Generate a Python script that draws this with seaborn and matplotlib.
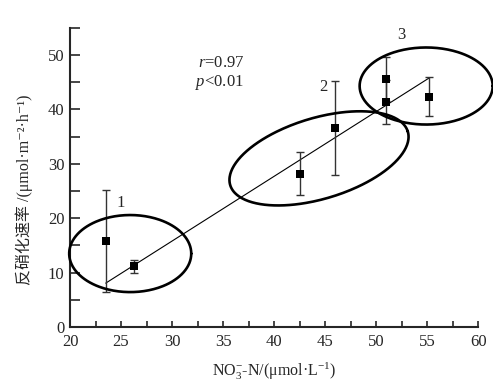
import numpy as np
import pandas as pd
import matplotlib
matplotlib.use("Agg")
import matplotlib.pyplot as plt
import seaborn as sns
from matplotlib.ticker import MultipleLocator

# data
nitrate = [23.5, 26.3, 42.5, 46.0, 51.0, 51.0, 55.2]
denit_rate = [15.8, 11.2, 28.2, 36.6, 45.6, 41.4, 42.3]
denit_err = [9.3, 1.2, 3.9, 8.6, 4.0, 4.0, 3.6]
fit_slope = 1.19
fit_intercept = -19.9
group_labels = ["1", "2", "3"]

df = pd.DataFrame({"x": nitrate, "y": denit_rate, "err": denit_err})

sns.set_style("ticks")
plt.rcParams["font.family"] = ["Liberation Serif", "DejaVu Serif", "Noto Sans CJK SC"]
plt.rcParams["mathtext.fontset"] = "custom"
plt.rcParams["mathtext.rm"] = "Liberation Serif"
plt.rcParams["mathtext.it"] = "Liberation Serif:italic"

fig = plt.figure(figsize=(4.93, 3.84), dpi=100)
ax = fig.add_axes([0.142, 0.1484, 0.828, 0.7792])

# regression line over data range
fx = np.array([min(nitrate), max(nitrate)])
ax.plot(fx, fit_slope * fx + fit_intercept, color="black", lw=0.8, zorder=2)

ax.errorbar(df.x, df.y, yerr=df.err, fmt="none", ecolor="#333333",
            elinewidth=1.0, capsize=3, capthick=1.0, zorder=3)
sns.scatterplot(data=df, x="x", y="y", marker="s", s=40, color="black",
                edgecolor="black", linewidth=0, ax=ax, zorder=4)

ax.set_xlim(20, 60)
ax.set_ylim(0, 55)
ax.xaxis.set_major_locator(MultipleLocator(5))
ax.xaxis.set_minor_locator(MultipleLocator(2.5))
ax.yaxis.set_major_locator(MultipleLocator(10))
ax.yaxis.set_minor_locator(MultipleLocator(5))
ax.tick_params(axis="both", which="both", direction="in", labelsize=12, width=1.2)
ax.tick_params(axis="x", which="both", length=4, pad=5)
ax.tick_params(axis="y", which="both", length=7, pad=4)
sns.despine(ax=ax)
for s in ["left", "bottom"]:
    ax.spines[s].set_linewidth(1.5)

ax.set_xlabel("NO$_3^{-}$-N/(μmol·L$^{-1}$)", fontsize=11.5, labelpad=8)
ax.set_ylabel("反硝化速率 /(μmol·m⁻²·h⁻¹)", fontsize=11.5)
ax.yaxis.set_label_coords(-0.09, 0.46)

ax.text(32.5, 48.5, "$r$=0.97", fontsize=12, va="center")
ax.text(32.2, 44.9, "$p$<0.01", fontsize=12, va="center")

# group ellipses drawn in pixel units then mapped to data units
sx = 408 / 40.0
sy = 299 / 55.0
ellipses = [(25.9, 13.5, 61, 38.5, 0), (44.4, 31.0, 92.7, 40.4, 16.8), (54.9, 44.3, 66.5, 38.5, 0)]
t = np.linspace(0, 2 * np.pi, 300)
for cx, cy, a, b, ang in ellipses:
    th = np.deg2rad(ang)
    ex = cx + (a * np.cos(t) * np.cos(th) - b * np.sin(t) * np.sin(th)) / sx
    ey = cy + (a * np.cos(t) * np.sin(th) + b * np.sin(t) * np.cos(th)) / sy
    ax.plot(ex, ey, color="black", lw=1.9, clip_on=False, zorder=5)

label_pos = [(25.0, 22.8), (44.8, 44.1), (52.5, 53.7)]
for lab, (lx, ly) in zip(group_labels, label_pos):
    ax.text(lx, ly, lab, fontsize=12, ha="center", va="center")

fig.savefig("out.png", dpi=100)
